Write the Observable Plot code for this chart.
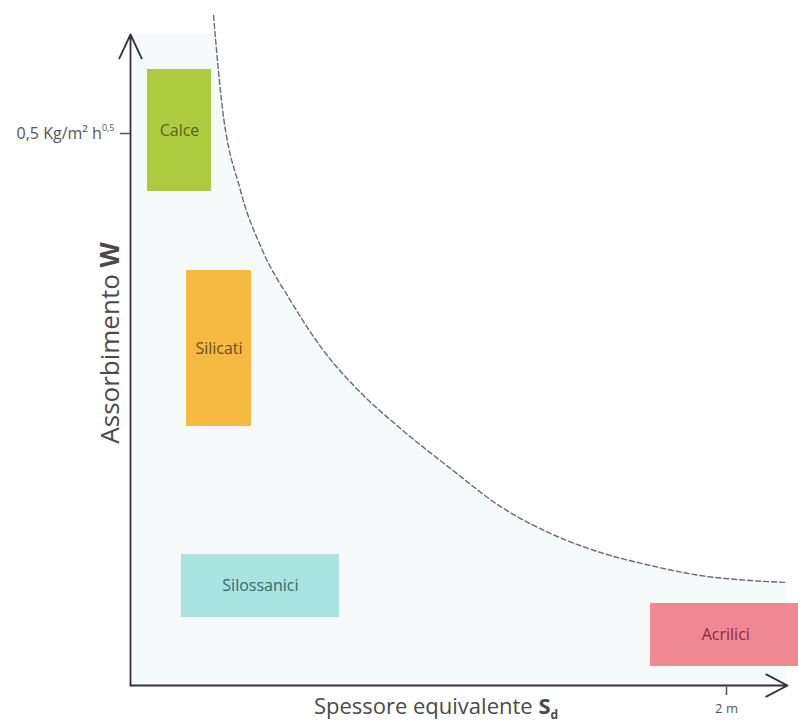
<!DOCTYPE html>
<html>
<head>
<meta charset="utf-8">
<script src="https://cdn.jsdelivr.net/npm/d3@7"></script>
<script src="https://cdn.jsdelivr.net/npm/@observablehq/plot@0.6"></script>
<style>
  html, body { margin: 0; padding: 0; background: #fff; }
  #chart svg { display: block; }
</style>
</head>
<body>
<div id="chart"></div>
<script>
// ---- Data ----
const materials = ["Calce", "Silicati", "Silossanici", "Acrilici"];
const sdFrom    = [0.057, 0.188, 0.171, 1.745];   // m
const sdTo      = [0.272, 0.406, 0.701, 2.25];    // m
const wFrom     = [0.4475, 0.2346, 0.0616, 0.0172]; // Kg/m² h^0.5
const wTo       = [0.558, 0.3759, 0.1187, 0.0743];
const fills     = ["#aecb3f", "#f6b942", "#a9e3e0", "#f08893"];
const inks      = ["#55661a", "#6e4c12", "#2e6d6c", "#8c2b34"];

// limit curve (dashed)
const curveSd = [0.2785, 0.3054, 0.3691, 0.4430, 0.5369, 0.6477, 0.7718, 0.9060, 1.0738, 1.2416, 1.4094, 1.5772, 1.7450, 1.9128, 2.0805, 2.2047];
const curveW  = [0.6069, 0.5299, 0.4484, 0.3940, 0.3487, 0.3034, 0.2654, 0.2328, 0.1966, 0.1621, 0.1377, 0.1205, 0.1087, 0.0996, 0.0951, 0.0933];

// axes
const xTicks = [2];
const xTickLabels = ["2 m"];
const yTicks = [0.5];
const yTickLabels = ["0,5 Kg/m² h"];
const yTickSup = "0,5";
const xMax = 2.2047, yMax = 0.5897;

const boxes = materials.map((m, i) => ({name: m, x1: sdFrom[i], x2: sdTo[i], y1: wFrom[i], y2: wTo[i], fill: fills[i], ink: inks[i]}));
const curve = curveSd.map((x, i) => ({x, y: curveW[i]}));
const tint = [{x: 0, y: yMax}, {x: curveSd[0] - 0.02, y: yMax}, ...curve];

const font = "'Open Sans', 'Noto Sans', sans-serif";

const chart = Plot.plot({
  width: 798,
  height: 727,
  marginTop: 34,
  marginBottom: 42,
  marginLeft: 130,
  marginRight: 11,
  style: {fontFamily: font, background: "#fff"},
  x: {domain: [0, xMax], axis: null},
  y: {domain: [0, yMax], axis: null},
  marks: [
    Plot.areaY(tint, {x: "x", y: "y", fill: "#f6fafa", curve: "monotone-x", clip: true}),
    Plot.rect(boxes, {x1: "x1", x2: "x2", y1: "y1", y2: "y2", fill: "fill"}),
    Plot.text(boxes, {x: d => (d.x1 + d.x2) / 2, y: d => (d.y1 + d.y2) / 2, text: "name", fill: "ink", fontSize: 16}),
    Plot.line(curve, {x: "x", y: "y", stroke: "#6a6a6a", strokeWidth: 1.4, strokeDasharray: "5,3", curve: "monotone-x"}),
    Plot.arrow([{x1: 0, y1: 0, x2: 0, y2: yMax}], {x1: "x1", y1: "y1", x2: "x2", y2: "y2", stroke: "#333", strokeWidth: 1.8, headLength: 22, headAngle: 50}),
    Plot.arrow([{x1: 0, y1: 0, x2: xMax, y2: 0}], {x1: "x1", y1: "y1", x2: "x2", y2: "y2", stroke: "#333", strokeWidth: 1.8, headLength: 20, headAngle: 55}),
    Plot.axisY(yTicks, {anchor: "left", tickSize: 10, tickPadding: 6, tickFormat: (d, i) => yTickLabels[i], color: "#555", strokeWidth: 1.5, fontSize: 16, label: null}),
    Plot.axisX(xTicks, {anchor: "bottom", tickSize: 10, tickPadding: 8, tickFormat: (d, i) => xTickLabels[i], color: "#555", strokeWidth: 1.5, fontSize: 13, label: null}),
    Plot.text(["Assorbimento "], {frameAnchor: "left", textAnchor: "middle", dx: -20, dy: -17, rotate: -90, fontSize: 26, fill: "#4a4a4a"}),
    Plot.text(["Spessore equivalente "], {frameAnchor: "bottom", textAnchor: "middle", dx: -23, dy: 28, fontSize: 22, fill: "#4a4a4a"})
  ]
});

document.getElementById("chart").appendChild(chart);

// rich-text parts: bold symbols, superscript and subscript
const svg = d3.select(chart);
svg.selectAll("text").each(function () {
  const t = d3.select(this);
  const s = this.textContent;
  const target = t.select("tspan").empty() ? t : t.select("tspan");
  if (s === "Assorbimento ") {
    target.append("tspan").attr("font-weight", "bold").text("W");
  } else if (s === "Spessore equivalente ") {
    target.append("tspan").attr("font-weight", "bold").text("S");
    target.append("tspan").attr("font-weight", "bold").attr("font-size", 12).attr("dy", "0.45em").text("d");
  } else if (s === yTickLabels[0]) {
    target.append("tspan").attr("font-size", 9).attr("dy", "-0.9em").text(yTickSup);
  }
});
</script>
</body>
</html>
